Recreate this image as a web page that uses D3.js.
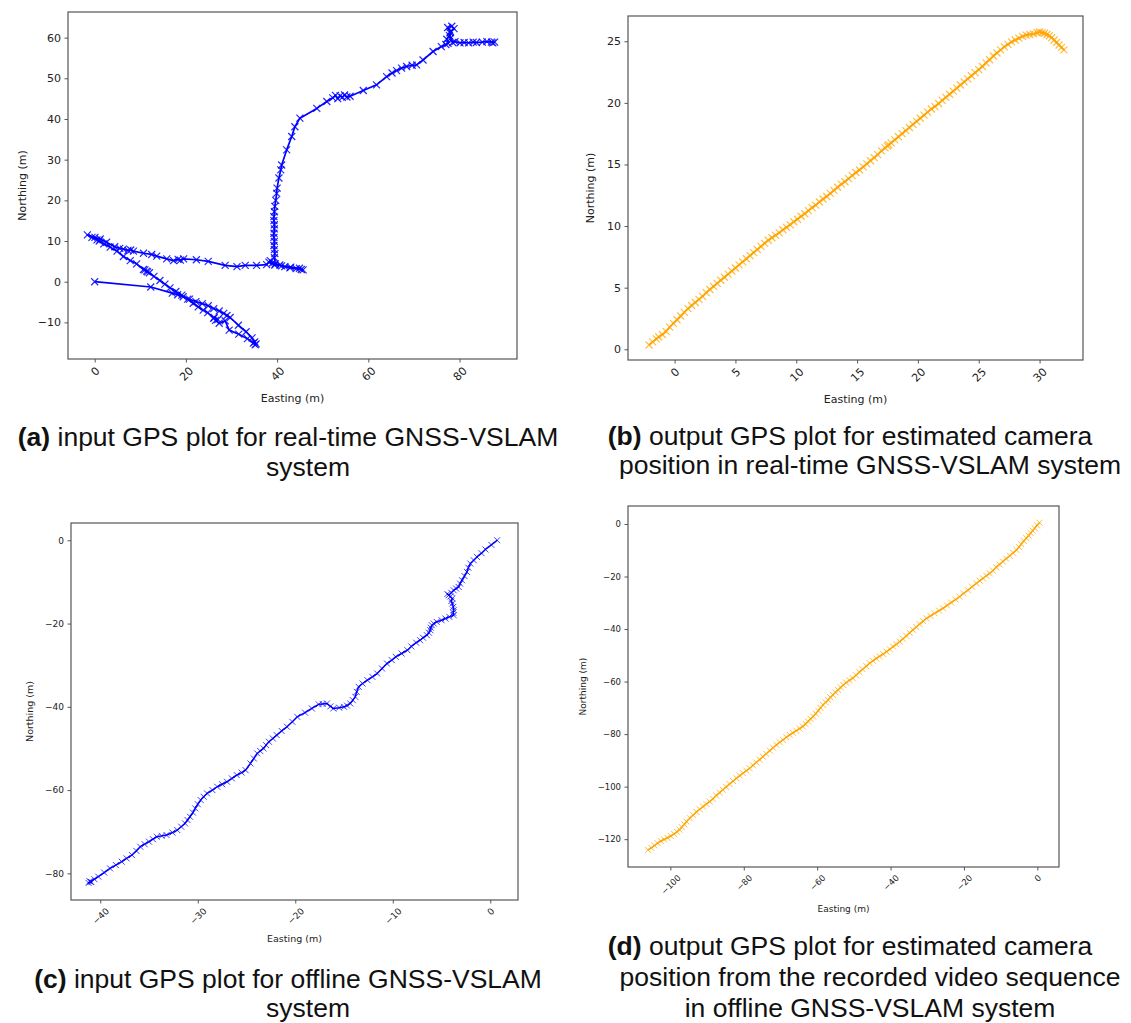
<!DOCTYPE html>
<html>
<head>
<meta charset="utf-8">
<script src="https://cdn.jsdelivr.net/npm/d3@7"></script>
<style>
  body { margin: 0; background: #fff; }
  svg { display: block; }
  .cap { font-family: "Liberation Sans", Arial, sans-serif; font-size: 26.5px; fill: #111; }
  .lab { font-family: "DejaVu Sans", sans-serif; fill: #222; }
</style>
</head>
<body>
<svg id="fig" width="1131" height="1023"></svg>
<script>
// (a) input GPS, real-time  [easting, northing] in metres
const trackA = [
  [0,0],[12.3,-1.3],[17.0,-2.8],[18.2,-3.2],[19.4,-3.7],[20.8,-4.3],[22.2,-4.9],[23.6,-5.4],
  [24.9,-5.9],[26.1,-6.6],[27.3,-7.2],[28.3,-7.8],[29.0,-8.3],[29.7,-8.8],[31.5,-10.7],[33.2,-12.3],
  [34.5,-13.8],[35.1,-14.8],[35.4,-15.3],[34.8,-15.1],[35.2,-15.5],[33.5,-14.0],[31.6,-12.9],[29.5,-11.9],
  [28.6,-9.6],[27.3,-10.2],[26.5,-9.5],[26.2,-8.8],[27.0,-9.3],[26.1,-9.0],[24.8,-7.6],[23.8,-7.0],
  [22.7,-6.2],[21.6,-5.3],[20.4,-4.3],[19.1,-3.3],[17.8,-2.4],[16.5,-1.5],[15.4,-0.6],[14.3,0.3],
  [13.0,1.3],[12.0,2.2],[11.4,2.6],[11.0,2.9],[11.6,2.4],[10.7,3.0],[9.2,4.4],[7.8,5.2],
  [6.3,6.2],[4.9,7.5],[3.4,8.5],[2.0,9.3],[1.0,10.0],[0.5,10.3],[-0.6,10.9],[-1.6,11.5],
  [0.05,10.9],[1.2,10.5],[2.6,9.7],[4.4,8.6],[5.5,8.2],[6.3,8.0],[7.3,7.7],[7.9,7.8],
  [8.5,7.5],[10.7,7.0],[12.5,6.7],[13.6,6.3],[15.8,5.6],[17.3,5.2],[18.3,5.5],[18.8,5.3],
  [19.5,5.6],[22.3,5.4],[24.9,5.0],[28.6,4.0],[31.2,3.7],[33.0,4.0],[35.5,4.0],[37.7,4.2],
  [38.5,5.2],[39.0,4.6],[38.2,4.8],[39.5,4.1],[40.6,4.1],[41.7,3.7],[42.8,3.4],[44.2,3.2],
  [45.3,3.0],[45.7,2.9],[44.9,3.3],[43.0,3.6],[41.0,3.9],[39.6,4.4],[39.4,5.9],[39.5,6.9],
  [39.4,7.9],[39.3,8.9],[39.4,9.9],[39.3,10.9],[39.3,11.9],[39.4,13.0],[39.4,14.0],[39.3,15.0],
  [39.3,16.0],[39.4,17.2],[39.5,18.5],[39.7,20.0],[39.9,21.7],[40.0,23.0],[40.4,25.5],[40.8,27.5],
  [41.0,28.7],[42.1,32.4],[43.2,35.7],[43.9,38.1],[45.0,40.2],[48.7,42.6],[50.9,44.3],[52.2,45.2],
  [52.8,45.8],[53.3,45.0],[53.8,45.7],[54.3,45.3],[54.8,45.9],[55.3,45.4],[56.0,45.6],[58.9,47.0],
  [61.8,48.4],[64.0,50.4],[65.2,51.3],[66.2,51.9],[67.3,52.5],[68.4,52.9],[69.6,53.2],[70.6,53.3],
  [72.0,54.5],[74.2,56.6],[76.0,57.8],[77.0,58.3],[77.5,58.6],[77.2,59.6],[77.8,60.5],[78.0,61.5],
  [77.4,62.5],[78.3,62.8],[78.8,62.2],[77.9,61.2],[78.0,59.8],[78.5,58.8],[79.0,59.0],[80.1,58.7],
  [81.0,58.8],[82.0,58.7],[83.0,58.9],[83.7,58.8],[85.0,58.9],[86.0,59.0],[87.0,58.9],[87.7,58.9],
  [87.3,58.7]
];

// (b) estimated camera position, real-time
const trackB = [
  [-2.1,0.35],[-1.8,0.6],[-1.5,0.85],[-1.3,1.0],[-1.0,1.2],[-0.7,1.45],[-0.4,1.8],[-0.1,2.1],
  [0.2,2.4],[0.5,2.7],[0.8,3.0],[1.1,3.3],[1.4,3.55],[1.7,3.8],[2.0,4.05],[2.3,4.3],
  [2.6,4.6],[2.9,4.85],[3.2,5.1],[3.5,5.35],[3.8,5.6],[4.1,5.85],[4.4,6.1],[4.7,6.35],
  [5.0,6.6],[5.3,6.85],[5.6,7.1],[5.9,7.35],[6.2,7.6],[6.5,7.85],[6.8,8.1],[7.1,8.35],
  [7.4,8.6],[7.7,8.85],[8.0,9.05],[8.3,9.25],[8.6,9.45],[8.9,9.7],[9.2,9.9],[9.5,10.1],
  [9.8,10.35],[10.1,10.55],[10.4,10.8],[10.7,11.0],[11.0,11.25],[11.3,11.5],[11.6,11.7],[11.9,11.95],
  [12.2,12.2],[12.5,12.4],[12.8,12.65],[13.1,12.9],[13.4,13.15],[13.7,13.4],[14.0,13.6],[14.3,13.85],
  [14.6,14.1],[14.9,14.35],[15.2,14.55],[15.5,14.8],[15.8,15.05],[16.1,15.3],[16.4,15.55],[16.7,15.8],
  [17.0,16.1],[17.3,16.35],[17.5,16.5],[17.6,16.6],[17.8,16.75],[18.1,17.0],[18.4,17.25],[18.7,17.5],
  [19.0,17.75],[19.3,18.0],[19.6,18.25],[19.9,18.5],[20.2,18.75],[20.5,19.0],[20.8,19.25],[21.1,19.5],
  [21.4,19.7],[21.7,19.95],[22.0,20.2],[22.3,20.45],[22.6,20.7],[22.9,20.95],[23.2,21.2],[23.5,21.45],
  [23.8,21.7],[24.1,21.95],[24.4,22.2],[24.7,22.45],[25.0,22.7],[25.3,22.95],[25.6,23.25],[25.9,23.5],
  [26.2,23.8],[26.5,24.05],[26.8,24.3],[27.1,24.55],[27.4,24.75],[27.7,24.95],[28.0,25.1],[28.3,25.25],
  [28.6,25.4],[28.9,25.5],[29.2,25.55],[29.5,25.6],[29.8,25.7],[30.0,25.75],[30.2,25.7],[30.4,25.65],
  [30.6,25.55],[30.8,25.45],[31.0,25.3],[31.2,25.1],[31.4,24.9],[31.6,24.7],[31.8,24.5],[32.0,24.3]
];

// (c) input GPS, offline
const trackC = [
  [0.7,0],[0.1,-1.1],[-0.5,-2.2],[-0.9,-3.1],[-1.37,-4.0],[-1.7,-4.8],[-2.05,-5.6],[-2.25,-6.6],
  [-2.4,-7.6],[-2.65,-8.6],[-2.9,-9.6],[-3.1,-10.4],[-3.25,-11.2],[-3.5,-11.6],[-3.76,-12.0],[-4.0,-12.6],
  [-4.27,-13.2],[-4.4,-12.9],[-4.1,-13.5],[-3.9,-14.0],[-4.0,-14.6],[-3.9,-15.2],[-3.8,-16.0],[-3.76,-16.8],
  [-3.8,-17.4],[-3.76,-18.0],[-4.2,-18.4],[-4.6,-18.8],[-5.0,-19.2],[-5.5,-19.6],[-5.8,-20.0],[-6.0,-20.4],
  [-6.1,-21.0],[-6.15,-21.6],[-6.3,-22.2],[-6.5,-22.8],[-6.9,-23.4],[-7.2,-24.0],[-7.6,-24.6],[-8.1,-25.5],
  [-8.5,-26.4],[-9.1,-27.2],[-9.7,-28.0],[-10.1,-28.8],[-10.6,-29.6],[-11.1,-30.8],[-11.6,-32.0],[-12.1,-32.8],
  [-12.6,-33.6],[-13.1,-34.4],[-13.5,-35.2],[-13.7,-36.4],[-13.85,-37.6],[-14.1,-38.4],[-14.36,-39.2],[-14.7,-39.7],
  [-15.0,-40.0],[-15.5,-40.2],[-16.1,-40.4],[-16.4,-39.9],[-16.75,-39.2],[-17.2,-39.3],[-17.6,-39.4],[-18.3,-40.4],
  [-19.0,-41.4],[-19.8,-42.4],[-20.3,-43.6],[-20.85,-44.8],[-21.4,-45.8],[-21.9,-46.8],[-22.3,-47.6],[-22.7,-48.4],
  [-23.0,-49.2],[-23.25,-50.0],[-23.6,-50.6],[-23.9,-51.2],[-24.25,-52.4],[-24.6,-53.6],[-25.1,-55.2],[-25.5,-55.8],
  [-26.0,-56.4],[-26.5,-57.2],[-27.0,-58.0],[-27.5,-58.6],[-28.0,-59.2],[-28.5,-60.0],[-29.05,-60.8],[-29.4,-61.6],
  [-29.7,-62.4],[-30.0,-63.4],[-30.26,-64.4],[-30.5,-65.4],[-30.8,-66.4],[-31.05,-67.2],[-31.3,-68.0],[-31.7,-68.8],
  [-32.1,-69.6],[-32.6,-70.2],[-33.2,-70.8],[-33.7,-71.0],[-34.2,-71.2],[-34.6,-71.8],[-35.0,-72.4],[-35.45,-73.0],
  [-35.9,-73.6],[-36.3,-74.6],[-36.75,-75.6],[-37.3,-76.4],[-37.8,-77.2],[-38.4,-78.0],[-39.0,-78.8],[-39.6,-79.8],
  [-40.2,-80.8],[-40.6,-81.4],[-41.0,-82.0],[-41.2,-82.3],[-40.9,-82.1],[-41.1,-81.9]
];

// (d) estimated camera position, recorded video
const trackD = [
  [-106.1,-124.1],[-105.2,-123.3],[-104.3,-122.4],[-103.5,-121.5],[-102.6,-120.7],[-101.7,-120.1],[-100.8,-119.5],[-99.9,-118.8],
  [-99.0,-118.0],[-98.2,-117.2],[-97.5,-116.4],[-96.9,-115.4],[-96.2,-114.4],[-95.6,-113.3],[-94.7,-112.0],[-93.8,-110.8],
  [-92.9,-109.6],[-92.0,-108.6],[-91.1,-107.6],[-90.2,-106.6],[-89.3,-105.7],[-88.4,-104.6],[-87.5,-103.4],[-86.6,-102.3],
  [-85.7,-101.2],[-84.8,-100.1],[-83.9,-99.0],[-82.9,-97.9],[-82.0,-96.8],[-81.1,-95.8],[-80.2,-94.9],[-79.3,-93.9],
  [-78.4,-93.0],[-77.5,-91.9],[-76.6,-90.8],[-75.7,-89.7],[-74.8,-88.6],[-73.9,-87.5],[-72.9,-86.3],[-72.0,-85.2],
  [-71.1,-84.1],[-70.2,-83.1],[-69.3,-82.2],[-68.4,-81.2],[-67.5,-80.3],[-66.6,-79.5],[-65.7,-78.7],[-64.8,-77.9],
  [-63.9,-77.1],[-63.2,-76.1],[-62.5,-75.2],[-61.8,-74.2],[-61.1,-73.3],[-60.4,-72.2],[-59.7,-71.1],[-59.1,-70.0],
  [-58.4,-68.9],[-57.7,-67.9],[-57.0,-67.0],[-56.4,-66.0],[-55.7,-65.1],[-55.0,-64.1],[-54.3,-63.2],[-53.6,-62.2],
  [-52.9,-61.3],[-52.1,-60.4],[-51.2,-59.5],[-50.3,-58.7],[-49.4,-57.6],[-48.5,-56.4],[-47.6,-55.3],[-46.6,-54.1],
  [-45.7,-53.0],[-44.8,-52.1],[-43.9,-51.2],[-43.0,-50.4],[-42.0,-49.5],[-41.1,-48.6],[-40.2,-47.7],[-39.3,-46.7],
  [-38.4,-45.8],[-37.5,-44.8],[-36.6,-43.7],[-35.7,-42.6],[-34.8,-41.4],[-33.9,-40.3],[-33.0,-39.2],[-32.1,-38.1],
  [-31.1,-37.0],[-30.2,-35.9],[-29.1,-35.0],[-28.0,-34.0],[-26.8,-33.0],[-25.7,-32.1],[-24.6,-31.0],[-23.5,-29.9],
  [-22.3,-28.8],[-21.2,-27.7],[-20.1,-26.4],[-18.9,-25.2],[-17.8,-23.9],[-16.6,-22.6],[-15.7,-21.6],[-14.8,-20.7],
  [-13.9,-19.7],[-13.0,-18.8],[-12.1,-17.7],[-11.2,-16.5],[-10.3,-15.4],[-9.4,-14.3],[-8.5,-13.2],[-7.5,-12.1],
  [-6.6,-11.0],[-5.7,-9.9],[-5.0,-8.8],[-4.4,-7.7],[-3.7,-6.5],[-3.0,-5.4],[-2.4,-4.4],[-1.8,-3.5],
  [-1.3,-2.5],[-0.7,-1.6],[-0.1,-0.5],[0.6,0.5]
];

// axis limits and ticks
const xLimA = [-5.85, 92.6], yLimA = [-19.0, 66.3];
const xLimB = [-3.83, 33.57], yLimB = [-0.87, 27.05];
const xLimC = [-43.0, 2.84], yLimC = [-86.4, 4.15];
const xLimD = [-111.55, 5.9], yLimD = [-130.6, 6.85];

const xTicksA = [0, 20, 40, 60, 80], yTicksA = [-10, 0, 10, 20, 30, 40, 50, 60];
const xTicksB = [0, 5, 10, 15, 20, 25, 30], yTicksB = [0, 5, 10, 15, 20, 25];
const xTicksC = [-40, -30, -20, -10, 0], yTicksC = [-80, -60, -40, -20, 0];
const xTicksD = [-100, -80, -60, -40, -20, 0], yTicksD = [-120, -100, -80, -60, -40, -20, 0];

const capA = [["(a)", " input GPS plot for real-time GNSS-VSLAM"], ["", "system"]];
const capB = [["(b)", " output GPS plot for estimated camera"], ["", "position in real-time GNSS-VSLAM system"]];
const capC = [["(c)", " input GPS plot for offline GNSS-VSLAM"], ["", "system"]];
const capD = [["(d)", " output GPS plot for estimated camera"], ["", "position from the recorded video sequence"], ["", "in offline GNSS-VSLAM system"]];

const svg = d3.select("#fig");
const minus = v => (v < 0 ? "\u2212" : "") + Math.abs(v);

function drawPanel(p) {
  const [l, t, r, b] = p.box;
  const x = d3.scaleLinear().domain(p.xLim).range([l, r]);
  const y = d3.scaleLinear().domain(p.yLim).range([b, t]);
  const g = svg.append("g");

  const clip = "clip" + p.id;
  g.append("clipPath").attr("id", clip).append("rect")
    .attr("x", l).attr("y", t).attr("width", r - l).attr("height", b - t);
  const plot = g.append("g").attr("clip-path", `url(#${clip})`);

  plot.append("path")
    .datum(p.data)
    .attr("d", d3.line().x(d => x(d[0])).y(d => y(d[1])))
    .attr("fill", "none")
    .attr("stroke", p.color)
    .attr("stroke-width", p.lw)
    .attr("stroke-linejoin", "round");

  const s = p.ms;
  plot.selectAll("path.mk")
    .data(p.data)
    .enter()
    .append("path")
    .attr("class", "mk")
    .attr("d", d => {
      const cx = x(d[0]), cy = y(d[1]);
      return `M${cx - s},${cy - s}L${cx + s},${cy + s}M${cx - s},${cy + s}L${cx + s},${cy - s}`;
    })
    .attr("stroke", p.color)
    .attr("stroke-width", p.mw)
    .attr("stroke-opacity", p.mo)
    .attr("fill", "none");

  // axes
  const xa = g.append("g")
    .attr("transform", `translate(0,${b})`)
    .call(d3.axisBottom(x).tickValues(p.xTicks).tickSize(3.5).tickSizeOuter(0).tickFormat(minus));
  const ya = g.append("g")
    .attr("transform", `translate(${l},0)`)
    .call(d3.axisLeft(y).tickValues(p.yTicks).tickSize(3.5).tickSizeOuter(0).tickPadding(3.5).tickFormat(minus));

  [xa, ya].forEach(a => {
    a.select(".domain").remove();
    a.attr("font-family", "DejaVu Sans, sans-serif").attr("font-size", p.fs).attr("color", "#333");
    a.selectAll(".tick line").attr("stroke", "#444").attr("stroke-width", 0.9);
    a.selectAll(".tick text").attr("fill", "#222");
  });

  xa.selectAll(".tick text").each(function () {
    const w = this.getComputedTextLength();
    const h = p.fs * 0.75;
    const off = 3.5 + 3.5 + (w + h) / (2 * Math.SQRT2);
    d3.select(this)
      .attr("y", 0).attr("dy", "0.35em")
      .attr("text-anchor", "middle")
      .attr("transform", `translate(0,${off}) rotate(-45)`);
  });

  g.append("rect")
    .attr("x", l).attr("y", t).attr("width", r - l).attr("height", b - t)
    .attr("fill", "none").attr("stroke", "#555").attr("stroke-width", 1.2);

  g.append("text").attr("class", "lab")
    .attr("x", (l + r) / 2).attr("y", p.xlabY)
    .attr("text-anchor", "middle").attr("font-size", p.ls)
    .text("Easting (m)");
  g.append("text").attr("class", "lab")
    .attr("transform", `translate(${p.ylabX},${(t + b) / 2}) rotate(-90)`)
    .attr("text-anchor", "middle").attr("font-size", p.ls)
    .text("Northing (m)");

  p.cap.forEach((line, i) => {
    const tx = g.append("text").attr("class", "cap")
      .attr("x", p.capX[i]).attr("y", p.capY[i])
      .attr("text-anchor", "middle");
    if (line[0]) tx.append("tspan").attr("font-weight", "bold").text(line[0]);
    tx.append("tspan").text(line[1]);
  });
}

drawPanel({ id: "a", data: trackA, box: [68, 12, 517, 359], xLim: xLimA, yLim: yLimA,
  xTicks: xTicksA, yTicks: yTicksA, color: "#0000ff", lw: 1.7, ms: 3.5, mw: 1.2, mo: 0.85,
  fs: 11, ls: 11, xlabY: 402, ylabX: 26, cap: capA, capX: [288, 308], capY: [446, 476] });

drawPanel({ id: "b", data: trackB, box: [628, 16, 1083, 360], xLim: xLimB, yLim: yLimB,
  xTicks: xTicksB, yTicks: yTicksB, color: "#ffa500", lw: 1.9, ms: 3.5, mw: 1.2, mo: 0.75,
  fs: 11, ls: 11, xlabY: 403, ylabX: 594, cap: capB, capX: [850, 870], capY: [445, 474] });

drawPanel({ id: "c", data: trackC, box: [71, 523, 518, 900], xLim: xLimC, yLim: yLimC,
  xTicks: xTicksC, yTicks: yTicksC, color: "#0000ff", lw: 1.5, ms: 3, mw: 1, mo: 0.75,
  fs: 9, ls: 9.5, xlabY: 942, ylabX: 33, cap: capC, capX: [288, 308], capY: [988, 1017] });

drawPanel({ id: "d", data: trackD, box: [628, 506, 1059, 867], xLim: xLimD, yLim: yLimD,
  xTicks: xTicksD, yTicks: yTicksD, color: "#ffa500", lw: 1.5, ms: 3, mw: 1, mo: 0.75,
  fs: 8.5, ls: 9, xlabY: 912, ylabX: 586, cap: capD, capX: [850, 870, 870], capY: [955, 986, 1017] });
</script>
</body>
</html>
